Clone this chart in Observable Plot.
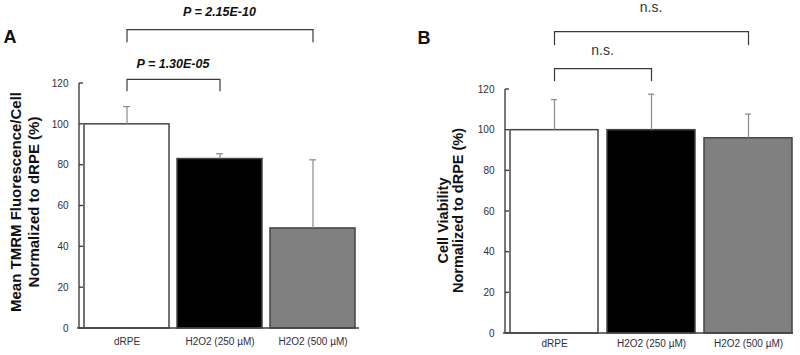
<!DOCTYPE html>
<html><head><meta charset="utf-8">
<script src="https://cdn.jsdelivr.net/npm/d3@7"></script>
<script src="https://cdn.jsdelivr.net/npm/@observablehq/plot@0.6"></script>
<style>
body{margin:0;background:#fff;}
#wrap{display:flex;width:800px;height:355px;}
#wrap svg{display:block;}
</style></head><body><div id="wrap"></div>
<script>
// ---- data ----
const groups = ["dRPE", "H2O2 (250 µM)", "H2O2 (500 µM)"];
const fills = ["#ffffff", "#000000", "#808080"];
const tmrmMean = [100, 83, 49];
const tmrmErr = [8.7, 2.6, 33.6];
const viabMean = [100, 100, 96];
const viabErr = [15, 17.7, 11.9];
const yTicks = [0, 20, 40, 60, 80, 100, 120];
const labelA = ["Mean TMRM Fluorescence/Cell", "Normalized to dRPE (%)"];
const labelB = ["Cell Viability", "Normalized to dRPE (%)"];
const bracketsA = [
  {from: "dRPE", to: "H2O2 (250 µM)", top: 122, end: 116, labelY: 129.3, label: "P = 1.30E-05"},
  {from: "dRPE", to: "H2O2 (500 µM)", top: 146.4, end: 140, labelY: 154.8, label: "P = 2.15E-10"}
];
const bracketsB = [
  {from: "dRPE", to: "H2O2 (250 µM)", top: 130.3, end: 123.9, labelY: 139.2, label: "n.s."},
  {from: "dRPE", to: "H2O2 (500 µM)", top: 148.5, end: 141.6, labelY: 160.3, label: "n.s."}
];

const FONT = "'Liberation Sans', Arial, Helvetica, sans-serif";

function axisLines(ticks) {
  return (index, scales, values, dims) => {
    const {y} = scales;
    const {width, height, marginLeft, marginRight, marginBottom} = dims;
    const g = d3.create("svg:g").attr("stroke", "#404040").attr("stroke-width", 1.4).attr("fill", "none");
    const x0 = marginLeft, yb = height - marginBottom;
    g.append("line").attr("x1", x0).attr("x2", x0).attr("y1", y(d3.max(ticks))).attr("y2", yb);
    g.append("line").attr("x1", x0 - 2).attr("x2", width - marginRight).attr("y1", yb).attr("y2", yb);
    for (const t of ticks) {
      g.append("line").attr("x1", x0).attr("x2", x0 + 4).attr("y1", y(t)).attr("y2", y(t));
    }
    return g.node();
  };
}

function bracketLabels(brackets, style) {
  return (index, scales) => {
    const {x, y} = scales;
    const off = x.bandwidth ? x.bandwidth() / 2 : 0;
    const g = d3.create("svg:g");
    for (const b of brackets) {
      g.append("text")
        .attr("x", (x(b.from) + x(b.to)) / 2 + off)
        .attr("y", y(b.labelY))
        .attr("text-anchor", "middle")
        .attr("dominant-baseline", "central")
        .attr("font-family", FONT)
        .attr("font-size", style.size)
        .attr("font-weight", style.weight)
        .attr("font-style", style.italic ? "italic" : "normal")
        .attr("fill", style.color)
        .text(b.label);
    }
    return g.node();
  };
}

function panel(opts) {
  const rows = groups.map((g, i) => ({group: g, mean: opts.mean[i], top: opts.mean[i] + opts.err[i], fill: fills[i]}));
  const xScale = {domain: groups, paddingInner: opts.pi, paddingOuter: opts.po, tickSize: 0, tickPadding: opts.xPad, label: null};
  if (opts.xRange) xScale.range = opts.xRange;
  return Plot.plot({
    width: 400,
    height: 355,
    marginLeft: opts.marginLeft,
    marginRight: opts.marginRight,
    marginTop: opts.marginTop,
    marginBottom: opts.marginBottom,
    style: {fontFamily: FONT, fontSize: "10px", color: "#2e2e40", background: "#fff"},
    color: {type: "identity"},
    x: xScale,
    y: {domain: [0, 120], ticks: yTicks, tickSize: 0, tickPadding: 11, label: null},
    marks: [
      Plot.barY(rows, {x: "group", y: "mean", fill: "fill", stroke: "#454545", strokeWidth: 1.5}),
      Plot.ruleX(rows, {x: "group", y1: "mean", y2: "top", stroke: "#8a8a8a", strokeWidth: 1.2}),
      Plot.tickY(rows, {x: "group", y: "top", stroke: "#8a8a8a", strokeWidth: 1.2, insetLeft: opts.capInset, insetRight: opts.capInset}),
      axisLines(yTicks),
      Plot.link(opts.brackets, {x1: "from", x2: "to", y1: "top", y2: "top", stroke: "#3a3a3a", strokeWidth: 1.2}),
      Plot.ruleX(opts.brackets, {x: "from", y1: "top", y2: "end", stroke: "#3a3a3a", strokeWidth: 1.2}),
      Plot.ruleX(opts.brackets, {x: "to", y1: "top", y2: "end", stroke: "#3a3a3a", strokeWidth: 1.2}),
      bracketLabels(opts.brackets, opts.bracketStyle),
      Plot.text([opts.ylabel[0]], {frameAnchor: "left", rotate: -90, dx: opts.yl1dx, dy: opts.yl1dy, fontSize: opts.ylSize, fontWeight: "bold", fill: "#111", textAnchor: "middle", lineAnchor: "middle"}),
      Plot.text([opts.ylabel[1]], {frameAnchor: "left", rotate: -90, dx: opts.yl2dx, dy: opts.yl2dy, fontSize: opts.ylSize, fontWeight: "bold", fill: "#111", textAnchor: "middle", lineAnchor: "middle"}),
      Plot.text([opts.letter], {frameAnchor: "top-left", dx: opts.letterDx, dy: opts.letterDy, fontSize: 18, fontWeight: "bold", fill: "#111", textAnchor: "start", lineAnchor: "middle"})
    ]
  });
}

const wrap = document.getElementById("wrap");
wrap.appendChild(panel({
  mean: tmrmMean, err: tmrmErr, brackets: bracketsA, ylabel: labelA, letter: "A",
  marginLeft: 79, marginRight: 41, marginTop: 83, marginBottom: 27,
  pi: 0.09, po: 0.045, xPad: 9, capInset: 39,
  bracketStyle: {size: 12.5, weight: "bold", italic: true, color: "#111"},
  ylSize: 15, yl1dx: -63, yl1dy: -4, yl2dx: -45, yl2dy: -4,
  letterDx: -76, letterDy: -46
}));
wrap.appendChild(panel({
  mean: viabMean, err: viabErr, brackets: bracketsB, ylabel: labelB, letter: "B",
  marginLeft: 105, marginRight: 7, marginTop: 89, marginBottom: 22,
  pi: 0.093, po: 0.03, xRange: [107, 395], xPad: 6, capInset: 41,
  bracketStyle: {size: 14, weight: "normal", italic: false, color: "#333"},
  ylSize: 14.5, yl1dx: -62, yl1dy: 9, yl2dx: -47, yl2dy: -1,
  letterDx: -88, letterDy: -51
}));
</script></body></html>
